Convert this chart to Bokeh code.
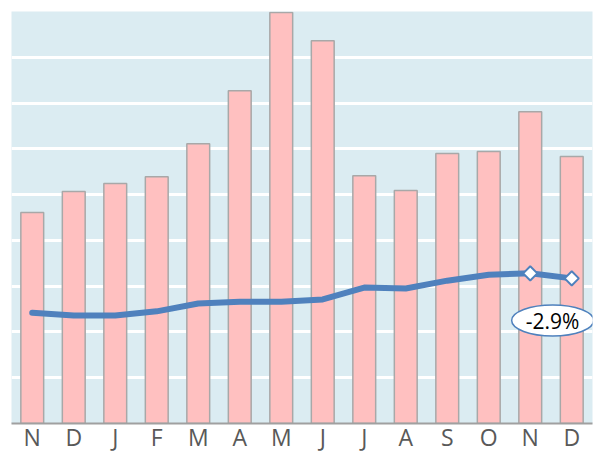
import numpy as np
from bokeh.plotting import figure
from bokeh.models import Range1d, FixedTicker, ColumnDataSource
from bokeh.embed import file_html
from bokeh.resources import INLINE
from bokeh.core.properties import value

months = ["N", "D", "J", "F", "M", "A", "M", "J", "J", "A", "S", "O", "N", "D"]
bars = [4.61, 5.07, 5.24, 5.39, 6.11, 7.27, 8.98, 8.36, 5.41, 5.09, 5.90, 5.94, 6.81, 5.83]
trend = [2.42, 2.36, 2.36, 2.45, 2.62, 2.66, 2.66, 2.71, 2.97, 2.95, 3.12, 3.25, 3.28, 3.17]
change_label = "-2.9%"

x = list(range(len(months)))
src = ColumnDataSource(dict(x=x, bars=bars, trend=trend))

p = figure(width=599, height=455, output_backend="svg", toolbar_location=None,
           x_range=Range1d(-0.5, len(months) - 0.5), y_range=Range1d(0, 9),
           min_border_left=11, min_border_right=7, min_border_top=11, min_border_bottom=0)
p.background_fill_color = "#dbecf2"
p.border_fill_color = "white"
p.outline_line_color = None

p.yaxis.visible = False
p.xgrid.visible = False
p.ygrid.ticker = FixedTicker(ticks=list(range(0, 10)))
p.ygrid.grid_line_color = "white"
p.ygrid.grid_line_width = 3

p.xaxis.ticker = FixedTicker(ticks=x)
p.xaxis.major_label_overrides = {i: m for i, m in enumerate(months)}
p.xaxis.major_tick_line_color = None
p.xaxis.minor_tick_line_color = None
p.xaxis.axis_line_color = "#a0a0a0"
p.xaxis.axis_line_width = 2
p.xaxis.major_label_text_font = "Open Sans"
p.xaxis.major_label_text_font_size = "23px"
p.xaxis.major_label_text_color = "#595959"
p.xaxis.major_label_text_line_height = 0.6
p.xaxis.major_label_standoff = -9

p.vbar(x="x", top="bars", width=0.55, bottom=0, source=src,
       fill_color="#ffc0c0", line_color="#a8a8a8", line_width=1.5)

p.line(x="x", y="trend", source=src, line_width=6, line_color="#4f81bd",
       line_join="round", line_cap="round")

last = ColumnDataSource(dict(x=x[-2:], y=trend[-2:]))
p.scatter(x="x", y="y", source=last, marker="square", angle=np.pi / 4, size=10,
          fill_color="white", line_color="#4f81bd", line_width=2)

p.ellipse(x=[12.54], y=[2.25], width=[82], height=[31], width_units="screen",
          height_units="screen", fill_color="white", line_color="#4f81bd", line_width=1.5)
p.text(x=[12.54], y=[2.25], text=[change_label], text_align="center",
       text_baseline="middle", text_font=value("Open Sans"), text_font_size="21px",
       text_color="black")

open("out.html", "w").write(file_html(p, INLINE))
